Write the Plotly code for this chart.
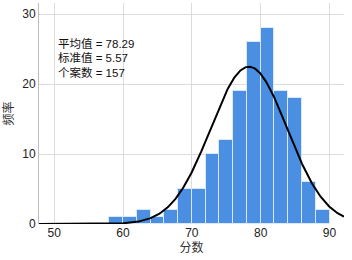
import numpy as np
import plotly.graph_objects as go

bin_left = [58, 60, 62, 64, 66, 68, 70, 72, 74, 76, 78, 80, 82, 84, 86, 88]
counts = [1, 1, 2, 1, 2, 5, 5, 10, 12, 19, 26, 28, 19, 18, 6, 2]
bin_width = 2
mean_val = 78.29
std_val = 5.57
n_val = 157
stat_labels = ["平均值 = 78.29", "标准值 = 5.57", "个案数 = 157"]

x_range = [47.8, 92.1]
y_range = [0, 31.6]

centers = [b + bin_width / 2 for b in bin_left]

xs = np.linspace(x_range[0], x_range[1], 400)
ys = n_val * bin_width / (std_val * np.sqrt(2 * np.pi)) * np.exp(-0.5 * ((xs - mean_val) / std_val) ** 2)

fig = go.Figure()
fig.add_trace(go.Bar(
    x=centers, y=counts, width=bin_width,
    marker=dict(color="#4a8fe2", line=dict(color="rgba(225,235,250,0.9)", width=1)),
    showlegend=False, hoverinfo="skip"))
fig.add_trace(go.Scatter(
    x=xs, y=ys, mode="lines", line=dict(color="black", width=2),
    showlegend=False, hoverinfo="skip"))

tick_font = dict(family="Liberation Sans, Arial, sans-serif", size=12, color="#222")
cjk = "Liberation Sans, Noto Sans CJK SC, sans-serif"

for i, t in enumerate(stat_labels):
    fig.add_annotation(x=50.3, y=25.7 - 2.0 * i, text=t, showarrow=False,
                       xanchor="left", yanchor="middle", xref="x", yref="y",
                       font=dict(family=cjk, size=11.5, color="#111"))

fig.update_layout(
    width=352, height=260,
    margin=dict(l=39, r=8, t=3, b=36),
    paper_bgcolor="white", plot_bgcolor="white",
    bargap=0,
    xaxis=dict(range=x_range, tickvals=[50, 60, 70, 80, 90], showgrid=True,
               gridcolor="#dcdcdc", gridwidth=1, zeroline=False, showline=False,
               ticks="", tickfont=tick_font,
               title=dict(text="分数", font=dict(family=cjk, size=12, color="#333"), standoff=3)),
    yaxis=dict(range=y_range, tickvals=[0, 10, 20, 30], showgrid=True,
               gridcolor="#dcdcdc", gridwidth=1, zeroline=False,
               showline=True, linecolor="#bdbdbd", linewidth=1,
               ticks="", tickfont=tick_font,
               title=dict(text="频率", font=dict(family=cjk, size=12, color="#333"), standoff=6)),
)

fig.write_html("out.html", config={"displayModeBar": False},
               post_script="document.body.style.margin='0';document.body.style.overflow='hidden';")
